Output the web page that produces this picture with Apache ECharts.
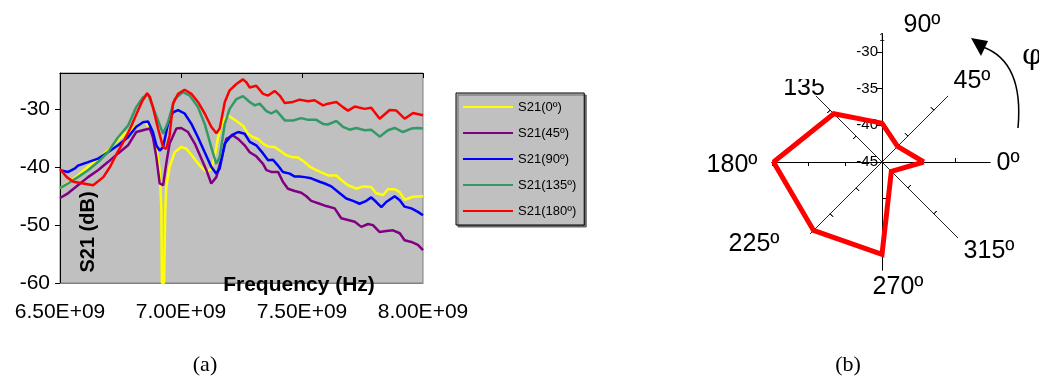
<!DOCTYPE html>
<html>
<head>
<meta charset="utf-8">
<script src="https://cdn.jsdelivr.net/npm/echarts@6/dist/echarts.min.js"></script>
<style>
	html, body { margin: 0; padding: 0; background: #fff; }
	#main { width: 1039px; height: 376px; }
</style>
</head>
<body>
<div id="main"></div>
<script>
// (a) S21 vs frequency, frequency in GHz (axis shows it as E+09)
const s21_0 = [
	[6.500, -43.6], [6.528, -42.8], [6.574, -41.4], [6.616, -39.9], [6.657, -38.5], [6.698, -37.1],
	[6.733, -35.6], [6.767, -34.2], [6.802, -33.3], [6.829, -32.5], [6.850, -32.2], [6.864, -32.8],
	[6.884, -34.2], [6.902, -37.6], [6.912, -40.5], [6.919, -47.4], [6.921, -60], [6.930, -60],
	[6.935, -47.4], [6.939, -43.4], [6.953, -39.9], [6.974, -37.4], [7.001, -36.5], [7.022, -36.8],
	[7.050, -38.2], [7.077, -39.7], [7.105, -40.8], [7.125, -40.3], [7.139, -38.2], [7.153, -34.8],
	[7.174, -31.9], [7.194, -31.0], [7.215, -31.6], [7.236, -32.2], [7.256, -32.8], [7.277, -34.2],
	[7.298, -34.8], [7.318, -35.1], [7.339, -35.9], [7.360, -36.4], [7.387, -36.5], [7.408, -37.1],
	[7.435, -37.9], [7.456, -38.2], [7.483, -38.3], [7.511, -39.1], [7.532, -39.9], [7.559, -40.5],
	[7.587, -41.0], [7.607, -41.4], [7.642, -41.4], [7.662, -42.2], [7.690, -43.1], [7.724, -43.7],
	[7.752, -43.3], [7.786, -43.4], [7.807, -44.5], [7.835, -44.8], [7.855, -43.8], [7.883, -43.8],
	[7.904, -44.3], [7.924, -45.6], [7.959, -45.1], [8.000, -45.0],
]
const s21_45 = [
	[6.500, -45.3], [6.533, -44.5], [6.574, -43.1], [6.616, -41.7], [6.657, -40.5], [6.698, -39.1],
	[6.740, -37.6], [6.781, -36.2], [6.815, -33.9], [6.850, -33.5], [6.871, -33.3], [6.884, -34.8],
	[6.898, -38.2], [6.912, -42.8], [6.926, -43.1], [6.939, -39.4], [6.953, -35.9], [6.981, -33.3],
	[7.001, -33.2], [7.029, -33.9], [7.057, -35.9], [7.084, -38.5], [7.105, -40.5], [7.125, -42.8],
	[7.146, -41.7], [7.167, -38.5], [7.187, -35.1], [7.215, -34.5], [7.236, -35.1], [7.263, -36.2],
	[7.284, -37.4], [7.311, -38.1], [7.339, -39.4], [7.353, -40.5], [7.373, -40.8], [7.401, -40.8],
	[7.421, -42.5], [7.442, -43.7], [7.470, -44.1], [7.497, -44.4], [7.518, -45.0], [7.538, -45.8],
	[7.573, -46.3], [7.600, -46.7], [7.635, -47.1], [7.662, -48.8], [7.690, -49.1], [7.718, -49.4],
	[7.745, -50.3], [7.773, -49.8], [7.793, -50.0], [7.821, -51.2], [7.848, -51.0], [7.876, -50.9],
	[7.904, -51.4], [7.924, -52.6], [7.952, -52.9], [7.979, -53.4], [8.000, -54.3],
]
const s21_90 = [
	[6.500, -40.5], [6.534, -40.8], [6.562, -40.2], [6.574, -39.7], [6.616, -39.1], [6.657, -38.5],
	[6.698, -37.4], [6.740, -36.2], [6.781, -34.8], [6.815, -33.0], [6.843, -32.2], [6.864, -32.1],
	[6.884, -33.9], [6.898, -36.2], [6.912, -37.1], [6.926, -36.5], [6.946, -32.5], [6.967, -30.5],
	[6.988, -30.1], [7.015, -30.7], [7.043, -32.5], [7.070, -34.8], [7.098, -37.4], [7.125, -39.9],
	[7.146, -41.1], [7.160, -40.2], [7.181, -35.9], [7.208, -34.5], [7.236, -33.9], [7.263, -34.2],
	[7.284, -35.6], [7.311, -36.2], [7.339, -37.6], [7.360, -38.8], [7.380, -38.7], [7.401, -39.7],
	[7.421, -40.8], [7.449, -41.1], [7.470, -41.6], [7.490, -41.6], [7.511, -41.7], [7.538, -41.9],
	[7.573, -42.5], [7.594, -42.8], [7.621, -43.3], [7.656, -44.5], [7.683, -45.4], [7.711, -45.8],
	[7.738, -46.3], [7.766, -45.8], [7.786, -45.2], [7.807, -46.0], [7.828, -46.9], [7.848, -46.0],
	[7.883, -45.0], [7.904, -45.7], [7.924, -46.8], [7.952, -47.1], [7.979, -47.7], [8.000, -48.3],
]
const s21_135 = [
	[6.500, -43.6], [6.533, -42.8], [6.574, -41.7], [6.616, -40.5], [6.657, -39.1], [6.698, -37.4],
	[6.740, -34.8], [6.781, -32.8], [6.815, -29.6], [6.843, -27.9], [6.864, -27.4], [6.884, -29.6],
	[6.905, -31.9], [6.926, -34.2], [6.946, -32.2], [6.974, -28.2], [7.008, -27.0], [7.036, -27.6],
	[7.070, -29.6], [7.098, -32.5], [7.125, -36.5], [7.146, -39.4], [7.160, -38.2], [7.181, -32.5],
	[7.201, -29.9], [7.229, -28.2], [7.256, -27.7], [7.284, -28.7], [7.305, -29.3], [7.325, -29.0],
	[7.353, -30.3], [7.373, -30.7], [7.394, -30.2], [7.429, -31.9], [7.463, -31.9], [7.497, -31.5],
	[7.525, -31.8], [7.559, -31.8], [7.587, -32.5], [7.607, -32.6], [7.642, -32.0], [7.669, -33.0],
	[7.697, -33.5], [7.724, -33.2], [7.759, -33.6], [7.786, -33.5], [7.821, -34.7], [7.855, -33.6],
	[7.883, -33.2], [7.917, -33.9], [7.952, -33.3], [7.979, -33.2], [8.000, -33.3],
]
const s21_180 = [
	[6.500, -40.3], [6.528, -41.7], [6.555, -42.5], [6.596, -42.8], [6.637, -43.1], [6.679, -41.7],
	[6.707, -39.9], [6.735, -37.6], [6.762, -35.6], [6.790, -33.3], [6.817, -30.7], [6.838, -28.7],
	[6.860, -27.2], [6.871, -27.8], [6.884, -29.6], [6.905, -33.3], [6.926, -36.5], [6.939, -36.8],
	[6.953, -34.5], [6.967, -29.0], [6.988, -27.3], [7.015, -26.6], [7.043, -27.3], [7.070, -28.7],
	[7.098, -30.7], [7.125, -33.0], [7.146, -34.1], [7.160, -33.3], [7.181, -28.7], [7.201, -26.7],
	[7.229, -25.6], [7.256, -24.8], [7.270, -25.3], [7.284, -26.2], [7.311, -25.9], [7.339, -27.3],
	[7.360, -27.6], [7.387, -26.8], [7.408, -27.6], [7.429, -28.9], [7.463, -28.7], [7.490, -28.3],
	[7.525, -28.6], [7.552, -28.4], [7.587, -29.3], [7.607, -29.0], [7.642, -28.7], [7.669, -29.6],
	[7.690, -30.2], [7.718, -29.5], [7.759, -29.9], [7.786, -29.7], [7.821, -31.6], [7.862, -30.1],
	[7.890, -30.2], [7.924, -31.6], [7.959, -30.6], [8.000, -31.0],
]
const legendNames = ['S21(0º)', 'S21(45º)', 'S21(90º)', 'S21(135º)', 'S21(180º)']
const lineColors = ['#ffff00', '#800080', '#0000ff', '#339966', '#ff0000']
const yTicks = [-60, -50, -40, -30]

// (b) S21 at 7 GHz vs rotation angle phi
const phiDeg = [0, 45, 90, 135, 180, 225, 270, 315]
const s21Polar = [-39.3, -42.0, -39.7, -35.7, -30.2, -31.8, -32.4, -43.2]
const polarTicks = [-45, -40, -35, -30]
const angleLabels = ['0º', '45º', '90º', '135', '180º', '225º', '270º', '315º']

const myChart = echarts.init(document.getElementById('main'))
const font = 'Liberation Sans'
const polarCenter = [882, 162]
const pxPerDb = 110 / 15

let seriesList = [s21_0, s21_45, s21_90, s21_135, s21_180].map((d, i) => ({
	name: legendNames[i],
	type: 'line',
	xAxisIndex: 0,
	yAxisIndex: 0,
	data: d,
	symbol: 'none',
	lineStyle: { width: 2.5, color: lineColors[i] },
	itemStyle: { color: lineColors[i] },
}))

// polar: index 0 carries the data, the others only draw one spoke each
let polar = [{ center: polarCenter, radius: 110 }]
let angleAxis = [{ polarIndex: 0, type: 'value', min: 0, max: 360, startAngle: 0, clockwise: false, show: false }]
let radiusAxis = [{ polarIndex: 0, type: 'value', min: -45, max: -30, show: false }]
const spokeLens = [108, 93, 128, 93, 110, 101, 108, 107]
phiDeg.forEach((a, i) => {
	const max = -45 + spokeLens[i] / pxPerDb
	const sides = a === 90 ? [false] : [false, true]
	sides.forEach((inside) => {
		const k = polar.length
		polar.push({ center: polarCenter, radius: spokeLens[i] })
		angleAxis.push({
			polarIndex: k,
			type: 'value',
			startAngle: a,
			axisLine: { show: false },
			axisTick: { show: false },
			axisLabel: { show: false },
			splitLine: { show: false },
		})
		radiusAxis.push({
			polarIndex: k,
			type: 'value',
			min: -45,
			max: max,
			axisLine: { show: true, lineStyle: { color: a % 90 ? '#222' : '#000', width: 1 } },
			axisTick: {
				show: true,
				inside: inside,
				length: a === 90 ? 5 : 4,
				customValues: polarTicks.slice(1).filter((v) => v <= max + 0.01),
				lineStyle: { color: '#000', width: 1 },
			},
			axisLabel: {
				show: a === 90 && !inside,
				customValues: polarTicks,
				margin: 4,
				fontSize: 15,
				fontFamily: font,
				color: '#000',
			},
			splitLine: { show: false },
			splitArea: { show: false },
		})
	})
})

let polarData = phiDeg.map((a, i) => [s21Polar[i], a])
polarData.push(polarData[0])
seriesList.push({
	type: 'line',
	coordinateSystem: 'polar',
	polarIndex: 0,
	data: polarData,
	symbol: 'none',
	z: 10,
	lineStyle: { width: 5, color: '#ff0000', join: 'miter' },
})

const labelPos = [[1008, 163], [972, 81], [922, 25], [804, 88], [732, 165], [754, 244], [898, 287], [989, 251]]
let graphic = angleLabels.map((t, i) => ({
	type: 'text',
	x: labelPos[i][0],
	y: labelPos[i][1],
	style: { text: t, fontSize: 25, fontFamily: font, fill: '#000', align: 'center', verticalAlign: 'middle' },
}))
graphic.push(
	// top of "135" is hidden in the original
	{ type: 'rect', shape: { x: 780, y: 70, width: 48, height: 9 }, style: { fill: '#fff' }, z: 200 },
	{ type: 'text', x: 882, y: 38, style: { text: '1', fontSize: 10, fontFamily: font, fill: '#000', align: 'center', verticalAlign: 'middle' } },
	{ type: 'text', x: 1032, y: 57, style: { text: 'φ', fontSize: 28, fontFamily: 'DejaVu Serif', fill: '#000', align: 'center', verticalAlign: 'middle' } },
	{
		type: 'bezierCurve',
		shape: { x1: 1018, y1: 128, cpx1: 1024, cpy1: 62, x2: 983, y2: 47 },
		style: { stroke: '#000', lineWidth: 1.5, fill: null },
	},
	{ type: 'polygon', shape: { points: [[971, 38], [988, 41], [981, 56]] }, style: { fill: '#000' } },
	{
		type: 'text',
		x: 88,
		y: 232,
		rotation: Math.PI / 2,
		style: { text: 'S21 (dB)', fontSize: 20, fontWeight: 'bold', fontFamily: font, fill: '#000', align: 'center', verticalAlign: 'middle' },
		z: 100,
	},
	{
		type: 'text',
		x: 299,
		y: 285,
		style: { text: 'Frequency (Hz)', fontSize: 21, fontWeight: 'bold', fontFamily: font, fill: '#000', align: 'center', verticalAlign: 'middle' },
		z: 100,
	},
	{ type: 'text', x: 205, y: 365, style: { text: '(a)', fontSize: 22, fontFamily: 'Liberation Serif', fill: '#000', align: 'center', verticalAlign: 'middle' } },
	{ type: 'text', x: 848, y: 365, style: { text: '(b)', fontSize: 22, fontFamily: 'Liberation Serif', fill: '#000', align: 'center', verticalAlign: 'middle' } },
)

let option = {
	animation: false,
	backgroundColor: '#fff',
	grid: {
		left: 60,
		top: 73,
		width: 363,
		height: 210,
		show: true,
		backgroundColor: '#c0c0c0',
		borderColor: '#808080',
		borderWidth: 1,
	},
	legend: {
		data: legendNames,
		orient: 'vertical',
		left: 456,
		top: 93,
		padding: [7, 8, 7, 7],
		itemGap: 12,
		itemWidth: 50,
		itemHeight: 2,
		icon: 'rect',
		backgroundColor: '#c0c0c0',
		borderColor: '#000',
		borderWidth: 1,
		shadowColor: '#666',
		shadowOffsetX: 2,
		shadowOffsetY: 2,
		textStyle: { fontSize: 13, lineHeight: 14, fontFamily: font, color: '#000' },
	},
	xAxis: [
		{
			type: 'value',
			min: 6.5,
			max: 8,
			interval: 0.5,
			position: 'bottom',
			axisLine: { show: true, lineStyle: { color: '#808080' } },
			axisTick: { show: false },
			axisLabel: {
				margin: 19,
				fontSize: 21,
				fontFamily: font,
				color: '#000',
				formatter: (v) => v.toFixed(2) + 'E+09',
			},
			splitLine: { show: false },
		},
		{
			type: 'value',
			min: 6.5,
			max: 8,
			interval: 0.5,
			position: 'top',
			axisLine: { show: true, lineStyle: { color: '#000' } },
			axisTick: { show: true, inside: true, length: 5, lineStyle: { color: '#000' } },
			axisLabel: { show: false },
			splitLine: { show: false },
		},
	],
	yAxis: {
		type: 'value',
		min: -60,
		max: -23.7,
		interval: 10,
		axisLine: { show: true, lineStyle: { color: '#000' } },
		axisTick: { show: true, length: 5, customValues: yTicks, lineStyle: { color: '#000' } },
		axisLabel: {
			margin: 10,
			fontSize: 21,
			fontFamily: font,
			color: '#000',
			customValues: yTicks,
		},
		splitLine: { show: false },
	},
	polar: polar,
	angleAxis: angleAxis,
	radiusAxis: radiusAxis,
	graphic: graphic,
	series: seriesList,
}
myChart.setOption(option)
window.addEventListener('resize', () => {
	myChart.resize()
})
</script>
</body>
</html>
